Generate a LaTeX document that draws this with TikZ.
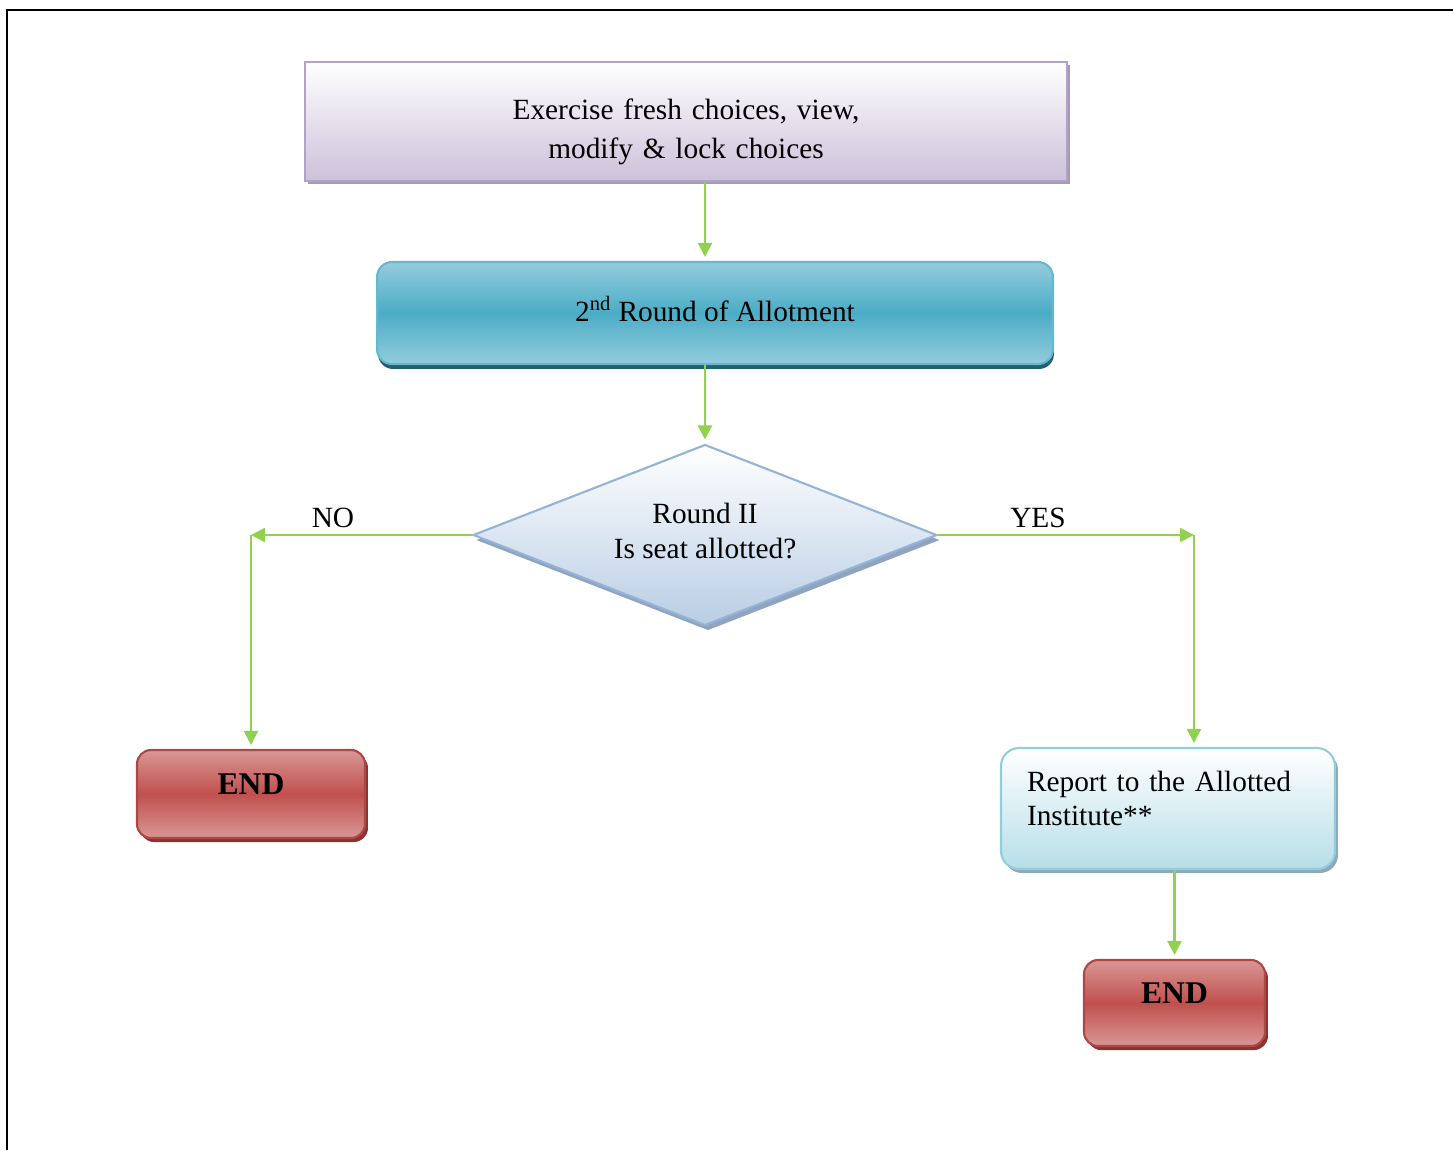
\documentclass[tikz,border=0pt]{standalone}
\usepackage{fontspec}
\setmainfont{Liberation Serif}
\usetikzlibrary{shapes.geometric,shadows,arrows.meta}

\definecolor{flowgreen}{HTML}{92D050}
\definecolor{choiceline}{HTML}{B3A2C7}
\definecolor{choicefill}{HTML}{CCC1DA}
\definecolor{choiceshade}{HTML}{A79BB3}
\definecolor{roundlight}{HTML}{93CDDD}
\definecolor{roundmid}{HTML}{4BACC6}
\definecolor{roundshade}{HTML}{245F70}
\definecolor{askline}{HTML}{95B3D7}
\definecolor{askfill}{HTML}{B9CDE5}
\definecolor{askshade}{HTML}{8EA4BF}
\definecolor{endlight}{HTML}{D99795}
\definecolor{endmid}{HTML}{C0504D}
\definecolor{endshade}{HTML}{8C3331}
\definecolor{reportline}{HTML}{93CDDD}
\definecolor{reportfill}{HTML}{B7DEE8}
\definecolor{reportshade}{HTML}{8DA9B5}

\begin{document}
\begin{tikzpicture}[x=0.02cm,y=-0.02cm,
    every node/.style={font=\fontsize{16.7}{22.2}\selectfont},
    choicebox/.style={draw=choiceline,line width=1.2pt,top color=white,bottom color=choicefill,
      text width=15.24cm,minimum height=2.38cm,inner sep=0pt,align=center,text depth=0.5cm,
      general shadow={fill=choiceshade,shadow xshift=0.06cm,shadow yshift=-0.06cm}},
    roundbox/.style={draw=roundmid!85,line width=1.2pt,rounded corners=0.3cm,
      top color=roundlight,bottom color=roundlight,middle color=roundmid,
      minimum width=13.52cm,minimum height=2.04cm,inner sep=0pt,text depth=0.16cm,
      general shadow={fill=roundshade,shadow xshift=0.02cm,shadow yshift=-0.1cm}},
    decision/.style={diamond,aspect=2.56,draw=askline,line width=1.2pt,top color=white,bottom color=askfill,
      minimum width=9.28cm,minimum height=3.62cm,inner sep=0pt,align=center,
      font=\fontsize{16.7}{19.9}\selectfont,text depth=0.16cm,
      general shadow={fill=askshade,shadow xshift=0.06cm,shadow yshift=-0.1cm}},
    endbox/.style={draw=endmid!90!black,line width=1.2pt,rounded corners=0.28cm,
      top color=endlight,bottom color=endlight,middle color=endmid,
      inner sep=0pt,font=\fontsize{18}{20}\selectfont\bfseries,text depth=0.4cm,
      general shadow={fill=endshade,shadow xshift=0.06cm,shadow yshift=-0.08cm}},
    reportbox/.style={draw=reportline,line width=1.2pt,rounded corners=0.36cm,top color=white,bottom color=reportfill,
      text width=5.64cm,inner xsep=0.52cm,inner ysep=0pt,minimum height=2.42cm,align=left,
      font=\fontsize{16.7}{19.4}\selectfont,text depth=1.1cm,
      general shadow={fill=reportshade,shadow xshift=0.06cm,shadow yshift=-0.08cm}},
    flow/.style={draw=flowgreen,line width=1.3pt,-{Triangle[length=0.28cm,width=0.28cm]},shorten >=0.08cm},
    flowturn/.style={flow,shorten >=0pt}]

  \useasboundingbox (0,0) rectangle (1453,1150);
  \draw[line width=0.04cm] (7,1150) -- (7,10) -- (1453,10);

  \node[choicebox] (choices) at (686,121.5) {Exercise fresh choices, view,\\modify \& lock choices};
  \node[roundbox] (round) at (715,313) {2\textsuperscript{nd} Round of Allotment};
  \node[decision] (seat) at (705,535) {Round II\\Is seat allotted?};
  \node[endbox,minimum width=4.56cm,minimum height=1.76cm] (endno) at (251,794) {END};
  \node[reportbox] (report) at (1168,808.5) {Report to the Allotted\\Institute**};
  \node[endbox,minimum width=3.62cm,minimum height=1.72cm] (endyes) at (1174.5,1003) {END};

  \coordinate (nocorner) at (251,535);
  \coordinate (yescorner) at (1194,535);
  \node (no) at (333,518) {NO};
  \node (yes) at (1038,518) {YES};

  \draw[flow] (choices.south -| seat.north) -- (round.north -| seat.north);
  \draw[flow] (round.south -| seat.north) -- (seat.north);
  \draw[flowturn] (seat.west) -- (nocorner);
  \draw[flow] (nocorner) -- (endno.north);
  \draw[flowturn] (seat.east) -- (yescorner);
  \draw[flow] (yescorner) -- (report.north -| yescorner);
  \draw[flow] (report.south -| endyes.north) -- (endyes.north);
\end{tikzpicture}
\end{document}
